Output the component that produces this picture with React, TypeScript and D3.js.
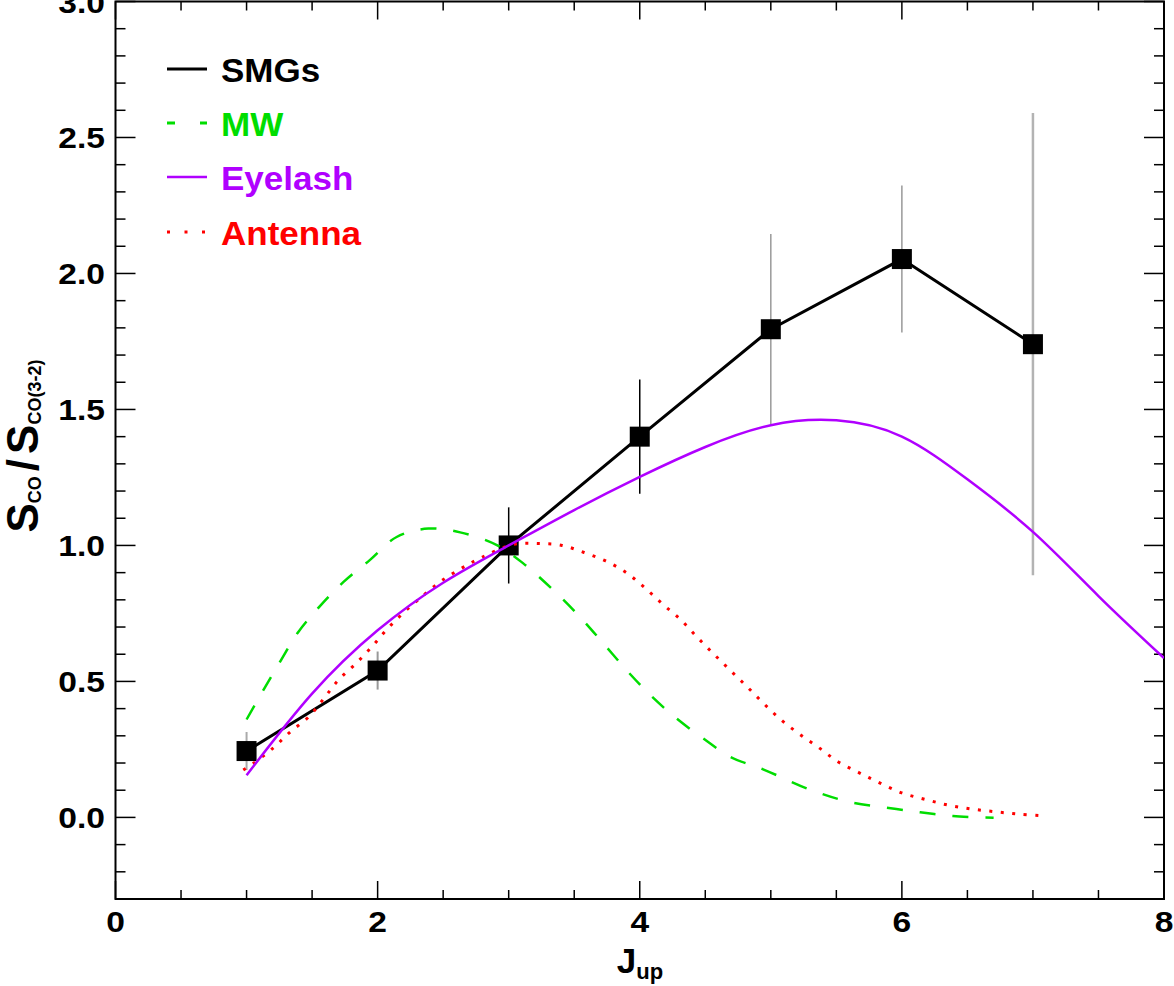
import React from "react";
import * as d3 from "d3";

// ---- data ----
const smgJ = [1, 2, 3, 4, 5, 6, 7];
const smgVal = [0.244, 0.54, 1.0, 1.40, 1.795, 2.053, 1.74];
const smgErr = [0.07, 0.07, 0.14, 0.21, 0.35, 0.27, 0.85];

const mwJ = [1.0, 1.128, 1.255, 1.395, 1.56, 1.74, 1.94, 2.145, 2.387, 2.63, 2.91, 3.111, 3.34, 3.544, 3.722, 3.9, 4.08, 4.28, 4.485, 4.69, 4.945, 5.31, 5.6, 5.87, 6.14, 6.39, 6.7];
const mwVal = [0.36, 0.468, 0.572, 0.682, 0.777, 0.866, 0.946, 1.031, 1.062, 1.048, 1.001, 0.934, 0.836, 0.737, 0.64, 0.541, 0.45, 0.364, 0.29, 0.223, 0.176, 0.1, 0.057, 0.037, 0.019, 0.005, -0.001];

const eyeJ = [1.0, 1.5, 2.0, 2.5, 3.0, 3.5, 4.0, 4.5, 5.0, 5.5, 6.0, 6.5, 7.0, 7.5, 8.0];
const eyeVal = [0.155, 0.455, 0.688, 0.863, 1.0, 1.13, 1.252, 1.362, 1.442, 1.46, 1.4, 1.243, 1.05, 0.814, 0.586];

const antJ = [0.975, 1.05, 1.2, 1.33, 1.47, 1.585, 1.7, 1.83, 1.955, 2.07, 2.196, 2.336, 2.476, 2.63, 2.794, 3.036, 3.226, 3.4, 3.575, 3.74, 3.9, 4.04, 4.175, 4.31, 4.435, 4.56, 4.69, 4.82, 4.945, 5.08, 5.22, 5.365, 5.515, 5.675, 5.83, 6.0, 6.18, 6.355, 6.53, 6.71, 6.89, 7.07];
const antVal = [0.174, 0.198, 0.254, 0.313, 0.368, 0.434, 0.505, 0.564, 0.627, 0.691, 0.752, 0.811, 0.866, 0.913, 0.956, 1.004, 1.007, 1.001, 0.974, 0.943, 0.899, 0.844, 0.784, 0.728, 0.664, 0.603, 0.541, 0.48, 0.419, 0.358, 0.306, 0.257, 0.204, 0.164, 0.127, 0.09, 0.066, 0.045, 0.031, 0.021, 0.012, 0.006];

const xTickLabels = ["0", "2", "4", "6", "8"];
const yTickLabels = ["0.0", "0.5", "1.0", "1.5", "2.0", "2.5", "3.0"];
const legendNames = ["SMGs", "MW", "Eyelash", "Antenna"];

// ---- styles ----
const errColors = ["#aaaaaa", "#999999", "#000000", "#000000", "#999999", "#999999", "#b3b3b3"];
const errWidths = [2, 2, 1.5, 1.5, 1.5, 1.5, 2.5];
const GREEN = "#00dd00";
const PURPLE = "#b000ff";
const RED = "#ff0000";
const FONT = "'Liberation Sans', Arial, Helvetica, sans-serif";

const W = 1174;
const H = 986;
const L = 115.5, R = 1164, T = 1.5, B = 899;

export default function App() {
  const x = d3.scaleLinear().domain([0, 8]).range([L, R]);
  const y = d3.scaleLinear().domain([-0.3, 3.0]).range([B, T]);

  const line = d3
    .line<[number, number]>()
    .x((d) => x(d[0]))
    .y((d) => y(d[1]));
  const smooth = d3
    .line<[number, number]>()
    .x((d) => x(d[0]))
    .y((d) => y(d[1]))
    .curve(d3.curveCatmullRom.alpha(0.5));
  const natural = d3
    .line<[number, number]>()
    .x((d) => x(d[0]))
    .y((d) => y(d[1]))
    .curve(d3.curveNatural);

  const zip = (a: number[], b: number[]) => a.map((v, i) => [v, b[i]] as [number, number]);

  const xMinor = d3.range(0, 8.001, 0.5);
  const xMajor = xTickLabels.map((t) => +t);
  const yMinor = d3.range(-0.3, 3.0001, 0.1).map((v) => Math.round(v * 10) / 10);
  const yMajor = yTickLabels.map((t) => +t);

  const legendStyles = [
    { stroke: "#000", dash: undefined as string | undefined, width: 3, color: "#000" },
    { stroke: GREEN, dash: "8 25", width: 3, color: GREEN },
    { stroke: PURPLE, dash: undefined, width: 2.5, color: PURPLE },
    { stroke: RED, dash: "3 14.5", width: 3, color: RED },
  ];
  const legendY = [69, 123, 177, 232];

  return (
    <svg
      width={W}
      height={H}
      style={{ position: "absolute", left: 0, top: 0, display: "block", background: "#fff" }}
      fontFamily={FONT}
    >
      <defs>
        <clipPath id="plotclip">
          <rect x={L} y={T} width={R - L} height={B - T} />
        </clipPath>
      </defs>
      <rect x={0} y={0} width={W} height={H} fill="#fff" />

      {/* ticks */}
      <g stroke="#000" strokeWidth={1.5}>
        {xMinor.map((v) => {
          const major = xMajor.includes(v);
          const len = major ? 18 : 9;
          return (
            <g key={"xt" + v}>
              <line x1={x(v)} x2={x(v)} y1={B} y2={B - len} />
              <line x1={x(v)} x2={x(v)} y1={T} y2={T + len} />
            </g>
          );
        })}
        {yMinor.map((v) => {
          const major = yMajor.some((m) => Math.abs(m - v) < 1e-6);
          const len = major ? 20 : 10;
          return (
            <g key={"yt" + v}>
              <line x1={L} x2={L + len} y1={y(v)} y2={y(v)} />
              <line x1={R} x2={R - len} y1={y(v)} y2={y(v)} />
            </g>
          );
        })}
      </g>
      <rect x={L} y={T} width={R - L} height={B - T} fill="none" stroke="#000" strokeWidth={2} />

      {/* tick labels */}
      <g fontWeight="bold" fontSize={30} fill="#000">
        {xTickLabels.map((t) => (
          <g key={"xl" + t} transform={`translate(${x(+t)},932) scale(1.12,1)`}>
            <text textAnchor="middle">{t}</text>
          </g>
        ))}
        {yTickLabels.map((t) => (
          <g key={"yl" + t} transform={`translate(105,${y(+t) + 11}) scale(1.12,1)`}>
            <text textAnchor="end">{t}</text>
          </g>
        ))}
      </g>

      {/* axis titles */}
      <text x={640} y={973} textAnchor="middle" fontWeight="bold" fill="#000">
        <tspan fontSize={35}>J</tspan>
        <tspan fontSize={22} dy={6}>up</tspan>
      </text>
      <text transform="translate(38,446) rotate(-90)" textAnchor="middle" fontWeight="bold" fill="#000">
        <tspan fontSize={44}>S</tspan>
        <tspan fontSize={18} dy={3}>CO</tspan>
        <tspan fontSize={44} dy={-3} dx={5}>/</tspan>
        <tspan fontSize={44} dx={5}>S</tspan>
        <tspan fontSize={18} dy={3}>CO(3-2)</tspan>
      </text>

      {/* data */}
      <g clipPath="url(#plotclip)">
        {smgJ.map((j, i) => (
          <line
            key={"err" + j}
            x1={x(j)}
            x2={x(j)}
            y1={y(smgVal[i] - smgErr[i])}
            y2={y(smgVal[i] + smgErr[i])}
            stroke={errColors[i]}
            strokeWidth={errWidths[i]}
          />
        ))}
        <path d={line(zip(smgJ, smgVal)) || ""} fill="none" stroke="#000" strokeWidth={3} />
        {smgJ.map((j, i) => (
          <rect key={"m" + j} x={x(j) - 10} y={y(smgVal[i]) - 10} width={20} height={20} fill="#000" />
        ))}

        <path d={smooth(zip(mwJ, mwVal)) || ""} fill="none" stroke={GREEN} strokeWidth={2.5} strokeDasharray="16 17" />
        <path d={smooth(zip(antJ, antVal)) || ""} fill="none" stroke={RED} strokeWidth={3} strokeDasharray="3 8.5" />
        <path d={natural(zip(eyeJ, eyeVal)) || ""} fill="none" stroke={PURPLE} strokeWidth={2.5} />
      </g>

      {/* legend */}
      <g>
        {legendNames.map((n, i) => (
          <g key={n}>
            <line
              x1={167}
              x2={207}
              y1={legendY[i]}
              y2={legendY[i]}
              stroke={legendStyles[i].stroke}
              strokeWidth={legendStyles[i].width}
              strokeDasharray={legendStyles[i].dash}
            />
            <g transform={`translate(221,${legendY[i] + 12.5}) scale(1.03,1)`}>
              <text fontSize={34} fontWeight="bold" fill={legendStyles[i].color}>
                {n}
              </text>
            </g>
          </g>
        ))}
      </g>
    </svg>
  );
}
